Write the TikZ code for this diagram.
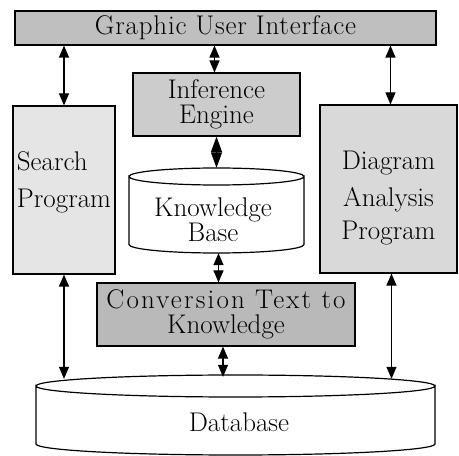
\documentclass[tikz,border=0pt]{standalone}
\usepackage{fontspec}
\setmainfont{Latin Modern Roman}
\usetikzlibrary{arrows.meta}
\begin{document}
\begin{tikzpicture}[x=1pt, y=1pt,
    box/.style = {draw, line width=1.2pt, inner sep=0pt},
    txt/.style = {font=\fontsize{27}{25}\selectfont, align=center},
    dbl/.style = {{Triangle[length=12pt,width=10pt]}-{Triangle[length=12pt,width=10pt]}, line width=1.2pt}]
    \useasboundingbox (0,0) rectangle (459,456);
    % boxes
    \node[box, txt, fill=gray!50, minimum width=421, minimum height=34] (gui) at (225.5,428) {\addfontfeatures{LetterSpace=3}Graphic User Interface};
    \node[box, fill=gray!20, minimum width=102, minimum height=168] (sp) at (64,266) {};
    \node[txt, align=left] (spt) at ([yshift=8pt]sp) {Search\\[12pt]Program};
    \node[box, txt, fill=gray!40, minimum width=167, minimum height=63] (ie) at (216.5,351.5) {Inference\\Engine};
    \node[box, fill=gray!30, minimum width=137, minimum height=168] (da) at (388.5,267) {};
    \node[txt] (dat) at ([yshift=-9pt]da) {Diagram\\[12pt]Analysis\\[8pt]Program};
    \node[box, txt, fill=gray!55, minimum width=258, minimum height=63] (cv) at (226,141.5) {{\addfontfeatures{LetterSpace=8}Conversion Text to}\\Knowledge};
    % cylinders
    \draw[line width=1.2pt, fill=white] (129,279.5) arc[start angle=180, end angle=360, x radius=87.5, y radius=8.5]
        -- (304,211.5) arc[start angle=0, end angle=-180, x radius=87.5, y radius=8.5] -- cycle;
    \draw[line width=1.2pt] (129,279.5) arc[start angle=180, end angle=0, x radius=87.5, y radius=8.5];
    \node[minimum width=175, minimum height=85, inner sep=0pt] (kb) at (216.5,245.5) {};
    \node[txt] (kbt) at (213,236) {Knowledge\\Base};
    \draw[line width=1.2pt, fill=white] (36,70) arc[start angle=180, end angle=360, x radius=199.5, y radius=11]
        -- (435,12) arc[start angle=0, end angle=-180, x radius=199.5, y radius=11] -- cycle;
    \draw[line width=1.2pt] (36,70) arc[start angle=180, end angle=0, x radius=199.5, y radius=11];
    \node[minimum width=399, minimum height=80, inner sep=0pt] (db) at (235.5,41) {};
    \node[txt, font=\fontsize{27}{27}\selectfont] (dbt) at (239,34) {Database};
    % connectors
    \draw[dbl] (sp.north |- gui.south) -- (sp.north);
    \draw[dbl] ([xshift=-2pt]ie.north |- gui.south) -- ([xshift=-2pt]ie.north);
    \draw[dbl] ([xshift=2pt]da.north |- gui.south) -- ([xshift=2pt]da.north);
    \draw[dbl, {Triangle[length=15.5pt,width=11pt]}-{Triangle[length=15.5pt,width=11pt]}] (ie.south -| kb.north) -- (kb.north);
    \draw[dbl] ([xshift=2pt]kb.south) -- ([xshift=2pt]kb.south |- cv.north);
    \draw[dbl] ([xshift=-3pt]cv.south) -- ([xshift=-3pt,yshift=-2pt]cv.south |- db.north);
    \draw[dbl] (sp.south) -- ([yshift=-4pt]sp.south |- db.north);
    \draw[dbl] ([xshift=3pt]da.south) -- ([xshift=3pt,yshift=-4pt]da.south |- db.north);
\end{tikzpicture}
\end{document}
